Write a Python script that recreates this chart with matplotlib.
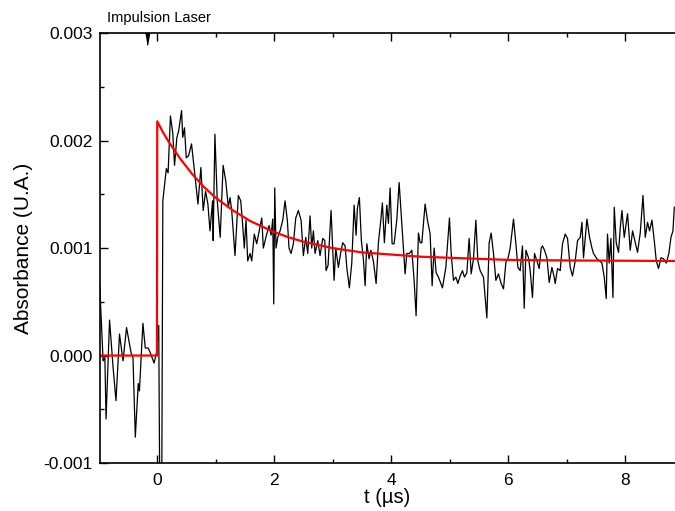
import numpy as np
import matplotlib.pyplot as plt
from matplotlib.ticker import MultipleLocator, FormatStrFormatter

plt.rcParams['font.family'] = ['Liberation Sans', 'DejaVu Sans']

# measured transient (t in µs, absorbance in 1e-3 U.A.)
t_meas = [-0.98, -0.92, -0.89, -0.87, -0.81, -0.75, -0.70, -0.64, -0.58, -0.52,
          -0.48, -0.44, -0.41, -0.37, -0.32, -0.30, -0.24, -0.20, -0.15, -0.11,
          -0.05, -0.01, 0.03, 0.05, 0.08, 0.10, 0.16, 0.19, 0.23, 0.27,
          0.30, 0.34, 0.37, 0.42, 0.44, 0.47, 0.50, 0.54, 0.59, 0.64,
          0.67, 0.70, 0.75, 0.79, 0.83, 0.87, 0.906, 0.95, 0.96, 0.99,
          1.03, 1.08, 1.13, 1.174, 1.219, 1.248, 1.277, 1.333, 1.390, 1.431,
          1.458, 1.492, 1.521, 1.550, 1.590, 1.619, 1.663, 1.704, 1.732, 1.790,
          1.817, 1.875, 1.915, 1.949, 1.978, 1.995, 2.012, 2.034, 2.063, 2.103,
          2.149, 2.188, 2.227, 2.256, 2.291, 2.330, 2.371, 2.415, 2.462, 2.501,
          2.542, 2.576, 2.615, 2.644, 2.672, 2.701, 2.747, 2.786, 2.832, 2.867,
          2.889, 2.923, 2.974, 3.026, 3.055, 3.099, 3.140, 3.174, 3.214, 3.243,
          3.287, 3.328, 3.368, 3.402, 3.424, 3.458, 3.492, 3.526, 3.556, 3.585,
          3.624, 3.653, 3.697, 3.744, 3.783, 3.824, 3.851, 3.885, 3.926, 3.954,
          3.983, 4.017, 4.051, 4.097, 4.137, 4.183, 4.239, 4.268, 4.313, 4.354,
          4.393, 4.427, 4.467, 4.496, 4.525, 4.581, 4.621, 4.667, 4.701, 4.735,
          4.769, 4.809, 4.877, 4.935, 4.969, 4.997, 5.026, 5.065, 5.106, 5.140,
          5.179, 5.219, 5.253, 5.294, 5.333, 5.368, 5.407, 5.448, 5.482, 5.521,
          5.578, 5.636, 5.675, 5.709, 5.749, 5.790, 5.834, 5.880, 5.920, 5.961,
          5.995, 6.034, 6.091, 6.132, 6.166, 6.205, 6.244, 6.274, 6.303, 6.347,
          6.376, 6.415, 6.450, 6.491, 6.530, 6.564, 6.586, 6.621, 6.662, 6.701,
          6.747, 6.786, 6.803, 6.843, 6.889, 6.928, 6.974, 7.014, 7.060, 7.099,
          7.145, 7.185, 7.231, 7.260, 7.287, 7.345, 7.390, 7.431, 7.458, 7.516,
          7.561, 7.602, 7.641, 7.675, 7.697, 7.726, 7.755, 7.790, 7.812, 7.846,
          7.885, 7.915, 7.944, 7.983, 8.039, 8.085, 8.125, 8.171, 8.210, 8.256,
          8.303, 8.342, 8.381, 8.415, 8.456, 8.496, 8.530, 8.569, 8.610, 8.655,
          8.701, 8.745, 8.781, 8.815, 8.838]
abs_meas = [0.67, -0.05, -0.02, -0.59, 0.33, -0.11, -0.42, 0.20, -0.05, 0.26,
            0.14, 0.02, -0.02, -0.76, -0.26, -0.33, 0.30, 0.07, 0.07, 0.02,
            -0.07, 0.02, 0.28, -1.5, -1.5, 1.44, 1.74, 1.70, 2.23, 2.07,
            1.77, 2.03, 2.09, 2.28, 2.03, 2.12, 1.84, 1.86, 1.97, 1.72,
            1.56, 1.41, 1.75, 1.35, 1.53, 1.41, 1.16, 1.44, 1.07, 2.06,
            1.44, 1.10, 1.77, 1.63, 1.38, 1.47, 1.35, 0.93, 1.49, 1.44,
            1.26, 1.00, 1.26, 0.88, 0.95, 0.88, 1.13, 1.04, 1.12, 1.28,
            1.00, 1.13, 1.21, 1.12, 1.27, 0.48, 1.56, 1.00, 1.10, 1.16,
            1.26, 1.44, 1.26, 1.00, 0.95, 1.04, 1.28, 1.35, 1.26, 0.93,
            1.10, 0.95, 1.30, 1.00, 1.16, 0.95, 1.07, 0.93, 1.09, 1.07,
            0.79, 0.84, 1.35, 0.70, 1.00, 0.82, 0.96, 1.05, 1.02, 0.82,
            0.63, 0.86, 1.40, 1.12, 1.37, 1.47, 1.07, 0.90, 0.65, 1.04,
            0.90, 0.98, 0.88, 0.67, 1.05, 1.26, 1.42, 1.05, 1.40, 1.23,
            1.56, 1.04, 1.04, 1.26, 1.61, 1.23, 0.76, 0.95, 0.95, 0.98,
            0.70, 0.37, 1.14, 1.05, 1.05, 1.41, 1.26, 1.13, 0.65, 1.00,
            0.77, 0.73, 0.63, 0.82, 1.07, 1.28, 0.95, 0.70, 0.73, 0.67,
            0.74, 0.79, 0.73, 0.77, 1.09, 0.76, 0.90, 1.26, 0.88, 0.79,
            0.73, 0.35, 1.05, 1.14, 0.95, 0.70, 0.76, 0.67, 0.62, 0.87,
            0.90, 1.00, 1.27, 1.04, 0.82, 0.79, 1.02, 0.44, 0.98, 0.91,
            0.79, 0.54, 0.95, 0.88, 0.81, 1.00, 1.02, 0.98, 0.91, 0.68,
            0.82, 0.73, 0.67, 0.81, 0.79, 1.04, 1.13, 1.09, 0.82, 0.74,
            0.88, 1.07, 1.10, 1.24, 0.91, 1.27, 1.10, 1.00, 0.95, 0.90,
            0.88, 0.86, 0.73, 0.53, 1.13, 0.86, 1.09, 0.54, 1.38, 1.05,
            0.96, 1.19, 1.35, 1.10, 1.32, 0.98, 1.16, 1.05, 0.96, 1.14,
            1.49, 1.10, 1.24, 1.16, 1.26, 1.07, 0.88, 0.81, 0.91, 0.90,
            0.86, 0.95, 1.10, 1.16, 1.38]

# fitted curve
t_fit = [-0.98, 0.0, 0.005, 0.1, 0.2, 0.3, 0.4, 0.5, 0.6, 0.7, 0.8, 0.9, 1.0,
         1.15, 1.3, 1.45, 1.6, 1.8, 2.0, 2.25, 2.5, 2.75, 3.0, 3.5, 4.0,
         4.5, 5.0, 6.0, 7.0, 8.85]
abs_fit = [0.0, 0.0, 2.18, 2.08, 1.99, 1.91, 1.83, 1.76, 1.69, 1.63, 1.57, 1.52, 1.47,
           1.41, 1.35, 1.30, 1.25, 1.20, 1.15, 1.10, 1.06, 1.03, 1.00, 0.96, 0.94,
           0.92, 0.91, 0.89, 0.885, 0.88]

t_laser = -0.17

fig = plt.figure(figsize=(6.75, 5.11), dpi=100)
ax = fig.add_axes([0.148, 0.094, 0.852, 0.841])

ax.plot(t_meas, np.array(abs_meas) * 1e-3, color='black', lw=0.9)
ax.plot(t_fit, np.array(abs_fit) * 1e-3, color='#ff0000', lw=1.6)

ax.set_xlim(-0.975, 8.85)
ax.set_ylim(-0.001, 0.003)

ax.xaxis.set_major_locator(MultipleLocator(2))
ax.xaxis.set_minor_locator(MultipleLocator(1))
ax.yaxis.set_major_locator(MultipleLocator(0.001))
ax.yaxis.set_minor_locator(MultipleLocator(0.0005))
ax.yaxis.set_major_formatter(FormatStrFormatter('%.3f'))

ax.tick_params(which='both', direction='in', top=True, right=False,
               width=1.0, labelsize=12.5)
ax.tick_params(which='major', length=6, pad=5)
ax.tick_params(which='minor', length=3)
ax.tick_params(axis='x', which='major', pad=7)
ax.spines['right'].set_visible(False)
for s in ['left', 'bottom', 'top']:
    ax.spines[s].set_linewidth(1.2)

ax.set_xlabel('t (µs)', fontsize=14.5, labelpad=0)
ax.set_ylabel('Absorbance (U.A.)', fontsize=15, labelpad=8)

# laser pulse marker
tri = [(-0.35, 0), (0.35, 0), (0, -2)]
ax.plot([t_laser], [0.003], marker=tri, markersize=17, color='black',
        clip_on=False, lw=0)
ax.text(-0.85, 1.035, 'Impulsion Laser', transform=ax.get_xaxis_transform(),
        fontsize=10.5, va='center', ha='left')

fig.savefig('out.png', dpi=100)
